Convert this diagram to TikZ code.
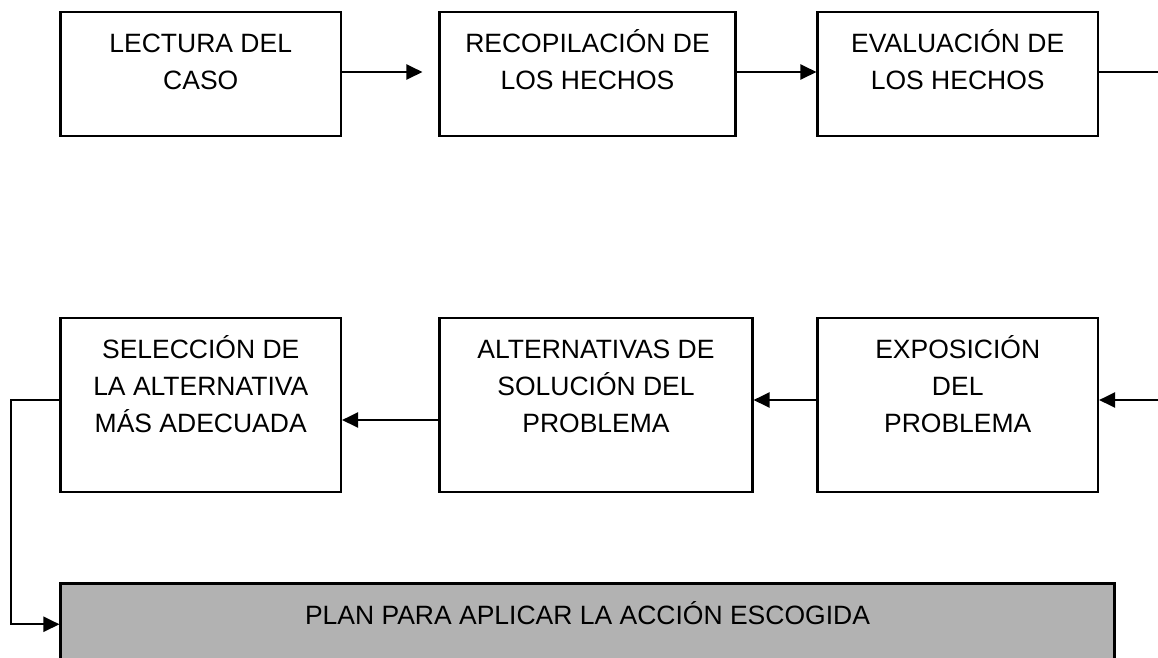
\documentclass[tikz,border=0pt]{standalone}
\usepackage{fontspec}
\setmainfont{Liberation Sans}
\usetikzlibrary{arrows.meta,calc}
\definecolor{boxgray}{RGB}{178,178,178}
\begin{document}
\begin{tikzpicture}[x=1pt,y=-1pt,
  box/.style={draw=black, line width=2.1pt, inner sep=0pt, rectangle},
  txt/.style={anchor=base, align=center, inner sep=0pt, font=\fontsize{26.5}{37}\selectfont},
  arr/.style={line width=2.2pt, -{Triangle[length=16pt,width=15pt]}},
  conn/.style={line width=2.2pt}
]
\useasboundingbox (0,0) rectangle (1158,657);
\clip (0,0) rectangle (1158,657);
% row 1
\node[box, minimum width=280.5pt, minimum height=124.5pt] (b1) at (200.75,74) {};
\node[box, minimum width=296pt, minimum height=124.5pt] (b2) at (587.5,74) {};
\node[box, minimum width=280.5pt, minimum height=124.5pt] (b3) at (957.75,74) {};
% row 2
\node[box, minimum width=280.5pt, minimum height=174pt] (b4) at (200.75,405) {};
\node[box, minimum width=313pt, minimum height=174pt] (b5) at (596,405) {};
\node[box, minimum width=280.5pt, minimum height=174pt] (b6) at (957.75,405) {};
% bottom
\node[box, fill=boxgray, minimum width=1054pt, minimum height=81.5pt] (b7) at (587.5,624.25) {};
% texts (anchored at the baseline of their last line)
\node[txt] (t1) at (200.75,89) {LECTURA DEL\\CASO};
\node[txt] (t2) at (587.5,89) {RECOPILACIÓN DE\\LOS HECHOS};
\node[txt] (t3) at (957.75,89) {EVALUACIÓN DE\\LOS HECHOS};
\node[txt] (t4) at (200.75,432) {SELECCIÓN DE\\LA ALTERNATIVA\\MÁS ADECUADA};
\node[txt] (t5) at (596,432) {ALTERNATIVAS DE\\SOLUCIÓN DEL\\PROBLEMA};
\node[txt] (t6) at (957.75,432) {EXPOSICIÓN\\DEL\\PROBLEMA};
\node[txt] (t7) at (587.5,624) {PLAN PARA APLICAR LA ACCIÓN ESCOGIDA};
% free ends at the right edge
\coordinate (e1) at (1162,72);
\coordinate (e2) at (1162,400);
% connectors
\draw[arr] ($(b1.east)+(0,-2)$) -- ($(b2.west)+(-16,-2)$);
\draw[arr] ($(b2.east)+(0,-2)$) -- ($(b3.west)+(0,-2)$);
\draw[conn] (b3.east |- e1) -- (e1);
\draw[arr] (e2) -- (b6.east |- e2);
\draw[arr] ($(b6.west)+(0,-5)$) -- ($(b5.east)+(0,-5)$);
\draw[arr] ($(b5.west)+(0,15)$) -- ($(b4.east)+(0,15)$);
\draw[arr] ($(b4.west)+(0,-5)$) -- ++(-48.5,0) |- (b7.west);
\end{tikzpicture}
\end{document}
